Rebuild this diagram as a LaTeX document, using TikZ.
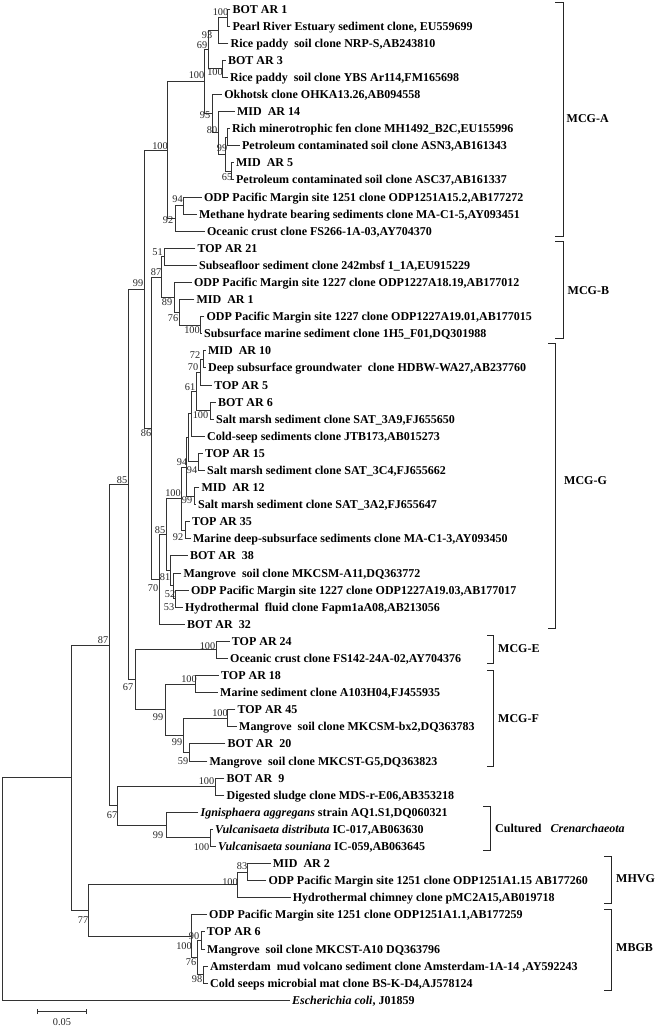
\documentclass[tikz,border=0pt]{standalone}
\usepackage{fontspec}
\setmainfont{Liberation Serif}
\newcommand\LY[1]{{9+17.09*(#1)}}
\begin{document}
\begin{tikzpicture}[x=1pt,y=-1pt,
  br/.style={line width=0.9pt, draw=black!80, line cap=rect},
  lf/.style={anchor=west, inner xsep=2.4pt, inner ysep=0pt, text height=8.2pt, text depth=0pt, font=\fontsize{12}{13}\selectfont\bfseries},
  bs/.style={inner sep=0pt, font=\fontsize{10.3}{11}\selectfont, text=black!85},
  grp/.style={anchor=west, inner sep=0pt, text height=8.2pt, text depth=0pt, font=\fontsize{12}{13}\selectfont\bfseries},
  brk/.style={line width=0.9pt, draw=black!85}]
\useasboundingbox (0,0) rectangle (660,1027);
% ---------- leaves ----------
\node[lf] (l0) at (230,\LY{0}) {BOT AR 1};
\node[lf] (l1) at (230,\LY{1}) {Pearl River Estuary sediment clone, EU559699};
\node[lf] (l2) at (228,\LY{2}) {Rice paddy\ \ soil clone NRP-S,AB243810};
\node[lf] (l3) at (225.5,\LY{3}) {BOT AR 3};
\node[lf] (l4) at (227.5,\LY{4}) {Rice paddy\ \ soil clone YBS Ar114,FM165698};
\node[lf] (l5) at (221.7,\LY{5}) {Okhotsk clone OHKA13.26,AB094558};
\node[lf] (l6) at (234.5,\LY{6}) {MID\ \ AR 14};
\node[lf] (l7) at (229.5,\LY{7}) {Rich minerotrophic fen clone MH1492\_B2C,EU155996};
\node[lf] (l8) at (239.5,\LY{8}) {Petroleum contaminated soil clone ASN3,AB161343};
\node[lf] (l9) at (233.5,\LY{9}) {MID\ \ AR 5};
\node[lf] (l10) at (233.5,\LY{10}) {Petroleum contaminated soil clone ASC37,AB161337};
\node[lf] (l11) at (201.5,\LY{11}) {ODP Pacific Margin site 1251 clone ODP1251A15.2,AB177272};
\node[lf] (l12) at (196.5,\LY{12}) {Methane hydrate bearing sediments clone MA-C1-5,AY093451};
\node[lf] (l13) at (204.5,\LY{13}) {Oceanic crust clone FS266-1A-03,AY704370};
\node[lf] (l14) at (195,\LY{14}) {TOP AR 21};
\node[lf] (l15) at (196.5,\LY{15}) {Subseafloor sediment clone 242mbsf 1\_1A,EU915229};
\node[lf] (l16) at (191.5,\LY{16}) {ODP Pacific Margin site 1227 clone ODP1227A18.19,AB177012};
\node[lf] (l17) at (194,\LY{17}) {MID\ \ AR 1};
\node[lf] (l18) at (204,\LY{18}) {ODP Pacific Margin site 1227 clone ODP1227A19.01,AB177015};
\node[lf] (l19) at (201.5,\LY{19}) {Subsurface marine sediment clone 1H5\_F01,DQ301988};
\node[lf] (l20) at (205.5,\LY{20}) {MID\ \ AR 10};
\node[lf] (l21) at (205.5,\LY{21}) {Deep subsurface groundwater\ \ clone HDBW-WA27,AB237760};
\node[lf] (l22) at (211.7,\LY{22}) {TOP AR 5};
\node[lf] (l23) at (215.5,\LY{23}) {BOT AR 6};
\node[lf] (l24) at (213.5,\LY{24}) {Salt marsh sediment clone SAT\_3A9,FJ655650};
\node[lf] (l25) at (204.5,\LY{25}) {Cold-seep sediments clone JTB173,AB015273};
\node[lf] (l26) at (202.5,\LY{26}) {TOP AR 15};
\node[lf] (l27) at (204.5,\LY{27}) {Salt marsh sediment clone SAT\_3C4,FJ655662};
\node[lf] (l28) at (199,\LY{28}) {MID\ \ AR 12};
\node[lf] (l29) at (195.5,\LY{29}) {Salt marsh sediment clone SAT\_3A2,FJ655647};
\node[lf] (l30) at (189.5,\LY{30}) {TOP AR 35};
\node[lf] (l31) at (190.5,\LY{31}) {Marine deep-subsurface sediments clone MA-C1-3,AY093450};
\node[lf] (l32) at (187.5,\LY{32}) {BOT AR\ \ 38};
\node[lf] (l33) at (181,\LY{33}) {Mangrove\ \ soil clone MKCSM-A11,DQ363772};
\node[lf] (l34) at (188.5,\LY{34}) {ODP Pacific Margin site 1227 clone ODP1227A19.03,AB177017};
\node[lf] (l35) at (182.5,\LY{35}) {Hydrothermal\ \ fluid clone Fapm1aA08,AB213056};
\node[lf] (l36) at (184.5,\LY{36}) {BOT AR\ \ 32};
\node[lf] (l37) at (229.3,\LY{37}) {TOP AR 24};
\node[lf] (l38) at (227.6,\LY{38}) {Oceanic crust clone FS142-24A-02,AY704376};
\node[lf] (l39) at (218.6,\LY{39}) {TOP AR 18};
\node[lf] (l40) at (217.6,\LY{40}) {Marine sediment clone A103H04,FJ455935};
\node[lf] (l41) at (235,\LY{41}) {TOP AR 45};
\node[lf] (l42) at (236.6,\LY{42}) {Mangrove\ \ soil clone MKCSM-bx2,DQ363783};
\node[lf] (l43) at (225,\LY{43}) {BOT AR\ \ 20};
\node[lf] (l44) at (207,\LY{44}) {Mangrove\ \ soil clone MKCST-G5,DQ363823};
\node[lf] (l45) at (224,\LY{45}) {BOT AR\ \ 9};
\node[lf] (l46) at (224,\LY{46}) {Digested sludge clone MDS-r-E06,AB353218};
\node[lf] (l47) at (198,\LY{47}) {\textit{Ignisphaera aggregans} strain AQ1.S1,DQ060321};
\node[lf] (l48) at (212.6,\LY{48}) {\textit{Vulcanisaeta distributa} IC-017,AB063630};
\node[lf] (l49) at (215.6,\LY{49}) {\textit{Vulcanisaeta souniana} IC-059,AB063645};
\node[lf] (l50) at (270.3,\LY{50}) {MID\ \ AR 2};
\node[lf] (l51) at (266,\LY{51}) {ODP Pacific Margin site 1251 clone ODP1251A1.15 AB177260};
\node[lf] (l52) at (290.3,\LY{52}) {Hydrothermal chimney clone pMC2A15,AB019718};
\node[lf] (l53) at (206.6,\LY{53}) {ODP Pacific Margin site 1251 clone ODP1251A1.1,AB177259};
\node[lf] (l54) at (204.3,\LY{54}) {TOP AR 6};
\node[lf] (l55) at (204.6,\LY{55}) {Mangrove\ \ soil clone MKCST-A10 DQ363796};
\node[lf] (l56) at (207.6,\LY{56}) {Amsterdam\ \ mud volcano sediment clone Amsterdam-1A-14 ,AY592243};
\node[lf] (l57) at (207.6,\LY{57}) {Cold seeps microbial mat clone BS-K-D4,AJ578124};
\node[lf] (l58) at (289.6,\LY{58}) {\textit{Escherichia coli}, J01859};
% ---------- internal nodes ----------
\coordinate (nA1) at (227.5,\LY{0.5});
\coordinate (n93) at (218,\LY{1.25});
\coordinate (nA3) at (222.7,\LY{3.5});
\coordinate (n69) at (208.3,\LY{2.375});
\coordinate (nRA) at (227.5,\LY{7.5});
\coordinate (n65) at (231,\LY{9.5});
\coordinate (nX99) at (225,\LY{8.5});
\coordinate (n80) at (218.3,\LY{7.25});
\coordinate (n95) at (212.7,\LY{6.125});
\coordinate (nA100) at (204,\LY{4.25});
\coordinate (n94a) at (183.3,\LY{11.5});
\coordinate (n92a) at (175.7,\LY{12.25});
\coordinate (nMCGA) at (167.5,\LY{8.25});
\coordinate (n51) at (164.5,\LY{14.5});
\coordinate (nB100) at (200.7,\LY{18.5});
\coordinate (n76) at (179.3,\LY{17.75});
\coordinate (n89) at (174,\LY{16.875});
\coordinate (nB87) at (161.5,\LY{15.6875});
\coordinate (n72) at (203.3,\LY{20.5});
\coordinate (nW70) at (200,\LY{21.25});
\coordinate (nB6) at (210,\LY{23.5});
\coordinate (n61) at (196.7,\LY{22.375});
\coordinate (nU) at (191.7,\LY{23.6875});
\coordinate (nT15) at (198.3,\LY{26.5});
\coordinate (nY) at (188.3,\LY{25.09375});
\coordinate (nM12) at (194,\LY{28.5});
\coordinate (nX94) at (186.7,\LY{26.797});
\coordinate (n92g) at (185,\LY{30.5});
\coordinate (nG100) at (181,\LY{28.648});
\coordinate (n53) at (175,\LY{34.5});
\coordinate (n52) at (173.3,\LY{33.75});
\coordinate (n81) at (170,\LY{32.875});
\coordinate (n85g) at (166.7,\LY{30.762});
\coordinate (n70g) at (159,\LY{33.381});
\coordinate (n86) at (151.7,\LY{24.534});
\coordinate (n99) at (144.3,\LY{16.392});
\coordinate (nE100) at (216.7,\LY{37.5});
\coordinate (nF100a) at (195,\LY{39.5});
\coordinate (nF100b) at (227.7,\LY{41.5});
\coordinate (n59) at (189.3,\LY{43.5});
\coordinate (nF99b) at (183.3,\LY{42.5});
\coordinate (nF99) at (165.7,\LY{41});
\coordinate (n67) at (135,\LY{39.25});
\coordinate (n85b) at (128.3,\LY{27.821});
\coordinate (nBOT9) at (215,\LY{45.5});
\coordinate (nVulc) at (210,\LY{48.5});
\coordinate (nC99) at (166.7,\LY{47.75});
\coordinate (n67b) at (117.3,\LY{46.625});
\coordinate (n87) at (109.3,\LY{37.223});
\coordinate (nM83) at (247.7,\LY{50.5});
\coordinate (nM100) at (237.7,\LY{51.25});
\coordinate (nT6) at (201.7,\LY{54.5});
\coordinate (nAM) at (203.3,\LY{56.5});
\coordinate (nMB76) at (197.3,\LY{55.5});
\coordinate (nMB100) at (191.7,\LY{54.25});
\coordinate (n77) at (88.7,\LY{52.75});
\coordinate (n87top) at (71.7,\LY{44.987});
\coordinate (root) at (2.5,\LY{51.49});
% ---------- branches ----------
\foreach \c/\p in {l0/nA1,l1/nA1,nA1/n93,l2/n93,l3/nA3,l4/nA3,n93/n69,nA3/n69,
  l7/nRA,l8/nRA,l9/n65,l10/n65,nRA/nX99,n65/nX99,l6/n80,nX99/n80,l5/n95,n80/n95,
  n69/nA100,n95/nA100,l11/n94a,l12/n94a,n94a/n92a,l13/n92a,nA100/nMCGA,n92a/nMCGA,
  l14/n51,l15/n51,l18/nB100,l19/nB100,l17/n76,nB100/n76,l16/n89,n76/n89,n51/nB87,n89/nB87,
  l20/n72,l21/n72,n72/nW70,l22/nW70,l23/nB6,l24/nB6,nW70/n61,nB6/n61,n61/nU,l25/nU,
  l26/nT15,l27/nT15,nU/nY,nT15/nY,l28/nM12,l29/nM12,nY/nX94,nM12/nX94,l30/n92g,l31/n92g,
  nX94/nG100,n92g/nG100,l34/n53,l35/n53,l33/n52,n53/n52,l32/n81,n52/n81,nG100/n85g,n81/n85g,
  n85g/n70g,l36/n70g,nB87/n86,n70g/n86,nMCGA/n99,n86/n99,
  l37/nE100,l38/nE100,l39/nF100a,l40/nF100a,l41/nF100b,l42/nF100b,l43/n59,l44/n59,
  nF100b/nF99b,n59/nF99b,nF100a/nF99,nF99b/nF99,nE100/n67,nF99/n67,n99/n85b,n67/n85b,
  l45/nBOT9,l46/nBOT9,l48/nVulc,l49/nVulc,l47/nC99,nVulc/nC99,nBOT9/n67b,nC99/n67b,
  n85b/n87,n67b/n87,l50/nM83,l51/nM83,nM83/nM100,l52/nM100,l54/nT6,l55/nT6,l56/nAM,l57/nAM,
  nT6/nMB76,nAM/nMB76,l53/nMB100,nMB76/nMB100,nM100/n77,nMB100/n77,n87/n87top,n77/n87top,
  n87top/root,l58/root}
  \draw[br] (\c) -| (\p);
% ---------- bootstrap values ----------
\node[bs] (bA1) at (220.5,12) {100};
\node[bs] (b93) at (207,35) {93};
\node[bs] (b69) at (202,45) {69};
\node[bs] (bA3) at (215,72) {100};
\node[bs] (bA100) at (196.5,75) {100};
\node[bs] (b95) at (205,115) {95};
\node[bs] (b80) at (212,130) {80};
\node[bs] (bX99) at (222,148) {99};
\node[bs] (b65) at (227,177) {65};
\node[bs] (b94a) at (177.5,199) {94};
\node[bs] (b92a) at (168,220) {92};
\node[bs] (bMCGA) at (160,146) {100};
\node[bs] (b99) at (138,283) {99};
\node[bs] (b86) at (146,433) {86};
\node[bs] (b85b) at (122,480) {85};
\node[bs] (b87) at (103,640) {87};
\node[bs] (b67) at (128,687) {67};
\node[bs] (b67b) at (112,815) {67};
\node[bs] (b77) at (83,920) {77};
\node[bs] (b51) at (157.5,252) {51};
\node[bs] (bB87) at (156,272) {87};
\node[bs] (b89) at (167,302) {89};
\node[bs] (b76) at (173,318) {76};
\node[bs] (bB100) at (192,330) {100};
\node[bs] (b72) at (195,355) {72};
\node[bs] (bW70) at (193,367) {70};
\node[bs] (b61) at (190,387) {61};
\node[bs] (bB6) at (200.5,415) {100};
\node[bs] (bX94) at (182,462) {94};
\node[bs] (bT15) at (192,470) {94};
\node[bs] (bM12) at (187,500) {99};
\node[bs] (bG100) at (173,493) {100};
\node[bs] (b92g) at (178,537) {92};
\node[bs] (b85g) at (160,530) {85};
\node[bs] (b81) at (165,577) {81};
\node[bs] (b52) at (170,594) {52};
\node[bs] (b53) at (169,607) {53};
\node[bs] (b70g) at (153,588) {70};
\node[bs] (bE100) at (207.5,646) {100};
\node[bs] (bF100a) at (189,679) {100};
\node[bs] (bF99) at (158,717) {99};
\node[bs] (bF99b) at (177,742) {99};
\node[bs] (b59) at (183,761) {59};
\node[bs] (bF100b) at (220,713) {100};
\node[bs] (bBOT9) at (206.5,781) {100};
\node[bs] (bC99) at (158,835) {99};
\node[bs] (bVulc) at (201.5,847) {100};
\node[bs] (bM83) at (242,866) {83};
\node[bs] (bM100) at (230,882) {100};
\node[bs] (bT6) at (194,936) {90};
\node[bs] (bMB100) at (184,946) {100};
\node[bs] (bMB76) at (191,962) {76};
\node[bs] (bAM) at (197,979) {98};
% ---------- group brackets ----------
\draw[brk] (555,2.7) -- (563.3,2.7) -- (563.3,236) -- (555,236);
\node[grp] (gA) at (566.5,118) {MCG-A};
\draw[brk] (555,241.7) -- (563.3,241.7) -- (563.3,338) -- (555,338);
\node[grp] (gB) at (567.5,290) {MCG-B};
\draw[brk] (548,343) -- (555,343) -- (555,628.3) -- (548,628.3);
\node[grp] (gG) at (564,480) {MCG-G};
\draw[brk] (487.3,635) -- (493.3,635) -- (493.3,663.3) -- (487.3,663.3);
\node[grp] (gE) at (498,648) {MCG-E};
\draw[brk] (487.3,670) -- (493.3,670) -- (493.3,766) -- (487.3,766);
\node[grp] (gF) at (498,718) {MCG-F};
\draw[brk] (483,806.7) -- (490,806.7) -- (490,850.7) -- (483,850.7);
\node[grp] (gC) at (495,828) {Cultured\ \ \ \textit{Crenarchaeota}};
\draw[brk] (604,856.7) -- (611,856.7) -- (611,903) -- (604,903);
\node[grp] (gM) at (616,878) {MHVG};
\draw[brk] (604,909) -- (611,909) -- (611,990) -- (604,990);
\node[grp] (gMB) at (616,947) {MBGB};
% ---------- scale bar ----------
\coordinate (sa) at (37.7,1011.7);
\coordinate (sb) at (86,1011.7);
\draw[br, line cap=butt] (sa) -- (sb);
\draw[br, line cap=butt] ([yshift=-2.5pt]sa) -- ([yshift=2.5pt]sa);
\draw[br, line cap=butt] ([yshift=-2.5pt]sb) -- ([yshift=2.5pt]sb);
\node[bs] (scl) at (62,1022) {0.05};
\end{tikzpicture}
\end{document}
